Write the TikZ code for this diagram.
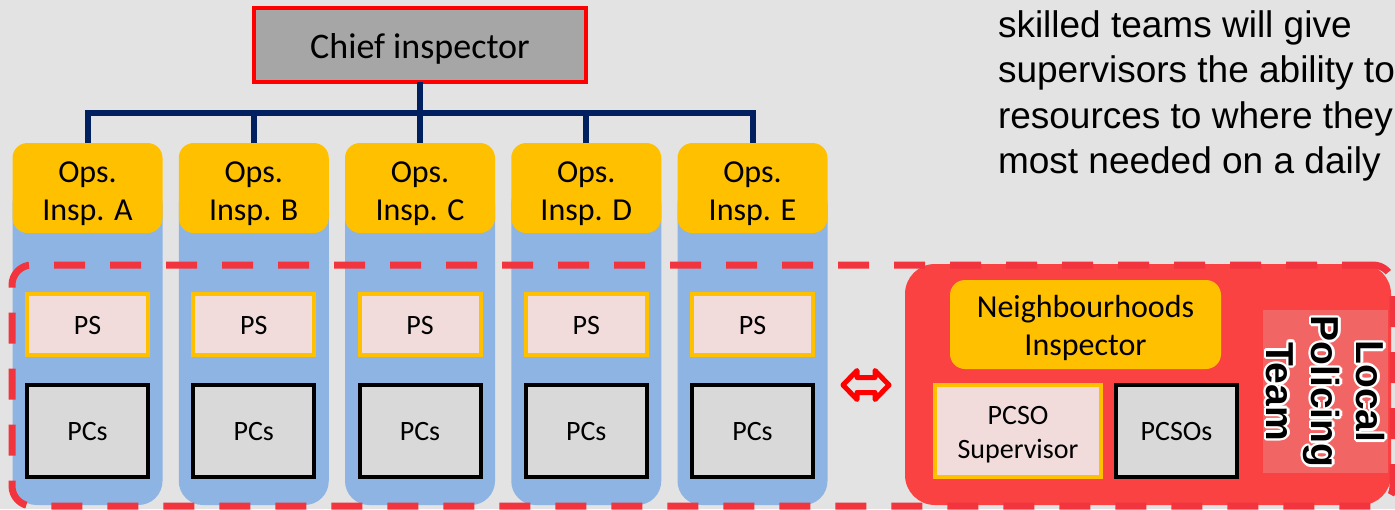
\documentclass[tikz,border=0pt]{standalone}
\usepackage{fontspec}
\setmainfont{Carlito}
\newfontfamily\arialf{Liberation Sans}
\definecolor{bgc}{RGB}{227,227,227}
\definecolor{yel}{RGB}{255,192,0}
\definecolor{bluec}{RGB}{142,180,227}
\definecolor{pinkc}{RGB}{242,220,219}
\definecolor{grayc}{RGB}{217,217,217}
\definecolor{chiefc}{RGB}{166,166,166}
\definecolor{navy}{RGB}{0,32,96}
\definecolor{teamc}{RGB}{250,66,66}
\definecolor{lblc}{RGB}{242,101,101}
\definecolor{dashc}{RGB}{242,52,62}
\newcommand\shiftdn[2]{\raisebox{-#1}[\height][\depth]{\begin{tabular}{@{}c@{}}#2\end{tabular}}}
\begin{document}
\begin{tikzpicture}[x=1pt,y=-1pt,
  every node/.style={inner sep=0pt, outer sep=0pt, align=center},
  chiefbox/.style={draw=red, fill=chiefc, line width=4pt, minimum width=332pt, minimum height=74pt, font=\fontsize{36}{43}\selectfont},
  colbox/.style={fill=bluec, rounded corners=24pt, minimum width=150pt, minimum height=325pt},
  opsbox/.style={fill=yel, rounded corners=15pt, minimum width=150pt, minimum height=90pt, font=\fontsize{32}{38}\selectfont},
  psbox/.style={draw=yel, fill=pinkc, line width=4pt, font=\fontsize{28}{33.6}\selectfont},
  pcbox/.style={draw=black, fill=grayc, line width=4pt, font=\fontsize{28}{33.6}\selectfont},
  link/.style={draw=navy, line width=6pt},
  lbltext/.style={rotate=-90, font=\arialf\bfseries\fontsize{39}{45}\selectfont},
  rtext/.style={anchor=base west, font=\arialf\fontsize{37}{45.5}\selectfont}
]
\path[use as bounding box] (0,0) rectangle (1395,509);
\clip (0,0) rectangle (1395,509);
\fill[bgc] (0,0) rectangle (1395,509);

% chief
\node[chiefbox] (chief) at (420,45) {\shiftdn{5pt}{Chief inspector}};
\coordinate (bus) at (420,113);

% columns
\foreach \i/\l in {0/A,1/B,2/C,3/D,4/E} {
  \pgfmathsetmacro\cx{87.5+166.25*\i}
  \node[colbox] (col\i) at (\cx,342.5) {};
  \node[opsbox] (ops\i) at (\cx,188) {\shiftdn{6pt}{Ops.\\Insp. \l}};
  \node[psbox, minimum width=121pt, minimum height=61pt] (ps\i) at (\cx,324.5) {\shiftdn{3pt}{PS}};
  \node[pcbox, minimum width=121pt, minimum height=92pt] (pcs\i) at (\cx,431) {\shiftdn{3pt}{PCs}};
}

% connectors
\draw[link] (chief.south) -- (chief.south |- bus);
\draw[link] (ops0.north) -- (ops0.north |- bus) -- (ops4.north |- bus) -- (ops4.north);
\foreach \i in {1,2,3} { \draw[link] (ops\i.north) -- (ops\i.north |- bus); }

% local policing team
\node[fill=teamc, rounded corners=30pt, minimum width=486pt, minimum height=241pt] (team) at (1148,384.5) {};
\node[draw=dashc, line width=7pt, dash pattern=on 31pt off 25pt, rounded corners=20pt, minimum width=1381pt, minimum height=241pt] (grp) at (702.5,385.5) {};
\node[opsbox, minimum width=271pt, minimum height=89pt] (ni) at (1085.5,324.5) {\shiftdn{4pt}{Neighbourhoods\\Inspector}};
\node[psbox, minimum width=166pt, minimum height=92pt] (sup) at (1018,431) {\shiftdn{4pt}{PCSO\\Supervisor}};
\node[pcbox, minimum width=121pt, minimum height=92pt] (pcsos) at (1176.5,431) {\shiftdn{3pt}{PCSOs}};
\node[fill=lblc, minimum width=125pt, minimum height=163pt] (lbl) at (1325.5,391.5) {};
\foreach \a in {0,30,...,330} {
  \node[lbltext, text=white, xshift={2.5*cos(\a)}, yshift={2.5*sin(\a)}] (halo\a) at (lbl) {Local\\Policing\\Team};
}
\node[lbltext] (lbltxt) at (lbl) {Local\\Policing\\Team};

% double arrow
\draw[red, line width=5pt, line join=round] (843,385) -- (857,370.5) -- (857,377.5) -- (875,377.5) -- (875,370.5) -- (889,385) -- (875,399.5) -- (875,392.5) -- (857,392.5) -- (857,399.5) -- cycle;

% right text
\node[rtext] (t1) at (998,37) {skilled teams will give};
\node[rtext] (t2) at (998,82.5) {supervisors the ability to};
\node[rtext] (t3) at (998,128) {resources to where they};
\node[rtext] (t4) at (998,173.5) {most needed on a daily};
\end{tikzpicture}
\end{document}
